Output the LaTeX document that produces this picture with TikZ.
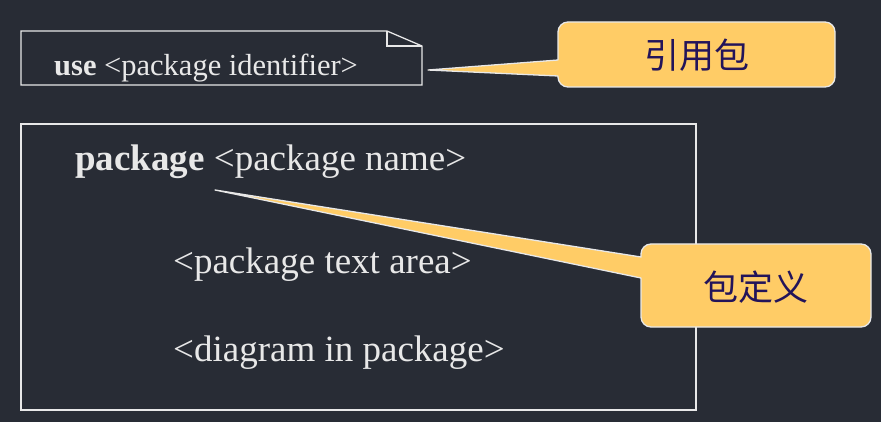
\documentclass[tikz,border=0pt]{standalone}
\usepackage{fontspec}
\setmainfont{Liberation Serif}
\newfontfamily\cjk{Noto Sans CJK SC}
\definecolor{bgc}{RGB}{40,44,53}
\definecolor{fgc}{RGB}{232,232,232}
\definecolor{callfill}{RGB}{255,204,102}
\definecolor{calltext}{RGB}{35,20,90}
\begin{document}
\begin{tikzpicture}[x=1pt,y=-1pt,
  frame/.style={draw=fgc,line width=1.3pt},
  calloutshape/.style={draw=fgc,fill=callfill,line width=1.3pt,line join=round},
  codetext/.style={anchor=base west,inner sep=0pt,text=fgc},
  calltxt/.style={inner sep=0pt,text=calltext,font=\cjk\fontsize{35}{38}\selectfont}]
\fill[bgc] (0,0) rectangle (881,422);
\useasboundingbox (0,0) rectangle (881,422);
% use note
\draw[frame] (21,31) -- (387,31) -- (422,46) -- (422,85) -- (21,85) -- cycle;
\draw[frame] (387,31) -- (387,46) -- (422,46);
\node[codetext,font=\fontsize{30.5}{34}\selectfont] (usel) at (54,75.5) {\textbf{use} <package identifier>};
% package frame
\draw[frame] (21,124) rectangle (696,410);
\node[codetext,font=\fontsize{37}{40}\selectfont] (pkgname) at (75,171) {\textbf{package} <package name>};
\node[codetext,font=\fontsize{37}{40}\selectfont] (pkgtext) at (173,273) {<package text area>};
\node[codetext,font=\fontsize{37}{40}\selectfont] (pkgdiag) at (173,361) {<diagram in package>};
% callout 1
\draw[calloutshape] (558,60) [rounded corners=10pt] -- (558,22) -- (835,22) -- (835,87) -- (558,87) [sharp corners] -- (558,76) -- (428,70) -- cycle;
\node[calltxt] (c1) at (697,55) {引用包};
% callout 2
\draw[calloutshape] (641,257) [rounded corners=10pt] -- (641,244) -- (871,244) -- (871,327) -- (641,327) [sharp corners] -- (641,278) -- (215,190) -- cycle;
\node[calltxt] (c2) at (756,287) {包定义};
\end{tikzpicture}
\end{document}
